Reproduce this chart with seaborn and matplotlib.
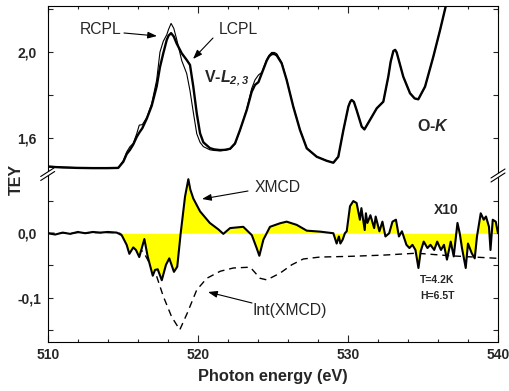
import matplotlib
matplotlib.use("Agg")
import matplotlib.pyplot as plt
from matplotlib.lines import Line2D
from matplotlib.patches import Polygon
from matplotlib.ticker import MultipleLocator, FuncFormatter
import pandas as pd
import seaborn as sns

# ---------------- data ----------------
energy_top = [510, 511, 512, 513, 514, 514.7, 515.04, 515.26, 515.48, 515.7,
              515.93, 516.1, 516.3, 516.6, 516.93, 517.26, 517.48, 517.7, 517.93, 518.05,
              518.22, 518.4, 518.59, 518.93, 519.26, 519.48, 519.7, 519.93, 520.15, 520.37,
              520.81, 521.1, 521.48, 521.8, 522.15, 522.48, 522.81, 523.26, 523.59, 523.81,
              524.04, 524.26, 524.59, 524.75, 524.92, 525.1, 525.26, 525.59, 525.92, 526.36,
              526.81, 527.26, 527.92, 528.59, 529.03, 529.36, 529.7, 530.03, 530.15, 530.25,
              530.4, 530.58, 530.92, 531.1, 531.47, 531.92, 532.36, 532.69, 532.85, 533.03,
              533.15, 533.25, 533.69, 534.14, 534.45, 534.69, 535.14, 535.69, 536.14, 536.54,
              536.9]

tey_lcpl = [1.467, 1.463, 1.461, 1.460, 1.460, 1.461, 1.490, 1.525, 1.545, 1.570,
            1.605, 1.625, 1.645, 1.690, 1.750, 1.840, 1.930, 1.994, 2.056, 2.076,
            2.088, 2.072, 2.040, 1.994, 1.963, 1.940, 1.839, 1.715, 1.622, 1.580,
            1.553, 1.547, 1.544, 1.545, 1.550, 1.575, 1.637, 1.730, 1.815, 1.847,
            1.860, 1.900, 1.960, 1.980, 1.990, 1.991, 1.984, 1.947, 1.870, 1.746,
            1.637, 1.552, 1.513, 1.494, 1.485, 1.513, 1.637, 1.746, 1.768, 1.777,
            1.768, 1.730, 1.653, 1.640, 1.684, 1.738, 1.769, 1.885, 1.955, 2.005,
            2.010, 1.998, 1.885, 1.808, 1.784, 1.780, 1.839, 1.978, 2.102, 2.219,
            2.330]

tey_rcpl = [1.469, 1.465, 1.462, 1.461, 1.461, 1.462, 1.495, 1.535, 1.560, 1.575,
            1.620, 1.660, 1.662, 1.695, 1.760, 1.870, 2.000, 2.050, 2.080, 2.105,
            2.133, 2.110, 2.060, 1.960, 1.900, 1.820, 1.720, 1.620, 1.580, 1.560,
            1.545, 1.542, 1.540, 1.543, 1.548, 1.572, 1.635, 1.735, 1.830, 1.870,
            1.893, 1.905, 1.965, 1.985, 1.998, 1.998, 1.992, 1.952, 1.872, 1.748,
            1.638, 1.553, 1.513, 1.494, 1.485, 1.513, 1.637, 1.746, 1.768, 1.777,
            1.768, 1.730, 1.653, 1.640, 1.684, 1.738, 1.769, 1.885, 1.955, 2.005,
            2.010, 1.998, 1.885, 1.808, 1.784, 1.780, 1.839, 1.978, 2.102, 2.219,
            2.330]

energy_xmcd = [510, 510.5, 511, 511.5, 512, 512.5, 513, 513.5, 514, 514.6,
               514.93, 515.26, 515.44, 515.7, 515.88, 516.1, 516.44, 516.66, 517.0, 517.15,
               517.33, 517.6, 517.88, 518.1, 518.41, 518.63, 518.86, 519.15, 519.37, 519.5,
               519.7, 520.15, 520.8, 521.37, 521.7, 522.15, 523.03, 523.6, 523.92, 524.1,
               524.37, 524.81, 525.48, 525.92, 526.59, 527.26, 528.14, 529.03, 529.25, 529.4,
               529.5, 529.65, 529.8, 529.92, 530.14, 530.36, 530.58, 530.8, 530.9, 531.12,
               531.2, 531.3, 531.5, 531.75, 531.85, 532.1, 532.3, 532.5, 532.75, 532.97,
               533.2, 533.4, 533.6, 533.9, 534.1, 534.3, 534.5, 534.7, 534.85, 535.05,
               535.3, 535.5, 535.75, 535.95, 536.2, 536.4, 536.6, 536.85, 537.05, 537.3,
               537.45, 537.6, 537.85, 538.0, 538.25, 538.45, 538.6, 538.85, 539.05, 539.2,
               539.4, 539.5, 539.65, 539.85, 540.0]

xmcd = [0.000, -0.002, 0.001, -0.001, 0.002, 0.000, 0.002, 0.001, 0.002, 0.001,
        -0.003, -0.018, -0.032, -0.022, -0.026, -0.037, -0.009, -0.036, -0.066, -0.057,
        -0.056, -0.073, -0.049, -0.039, -0.060, -0.052, 0.000, 0.057, 0.084, 0.068,
        0.054, 0.034, 0.016, 0.006, -0.001, 0.008, 0.010, -0.003, -0.023, -0.035,
        -0.010, 0.010, 0.0155, 0.018, 0.013, 0.004, 0.0025, 0.000, -0.016, -0.005,
        -0.016, -0.010, 0.000, 0.003, 0.042, 0.050, 0.047, 0.021, 0.039, 0.005,
        0.031, 0.016, 0.028, 0.008, 0.026, 0.003, 0.018, -0.005, 0.000, 0.018,
        0.021, -0.005, 0.003, -0.018, -0.023, -0.018, -0.026, -0.054, -0.028, -0.013,
        -0.023, -0.018, -0.026, -0.013, -0.026, -0.018, -0.041, -0.013, -0.036, 0.016,
        0.000, -0.023, -0.054, -0.016, -0.031, -0.039, -0.005, 0.031, 0.021, 0.026,
        0.010, -0.026, 0.021, 0.018, 0.000]

energy_int = [510, 514.8, 515.6, 516.4, 517.26, 517.7, 518.26, 518.8, 519.3, 519.93,
              520.6, 521.5, 522.37, 523.26, 523.5, 524.15, 524.6, 525.48, 526.26, 527.03,
              528.14, 530.0, 532.36, 534.58, 536.8, 540.0]
int_xmcd = [0.0, 0.0, -0.013, -0.030, -0.067, -0.098, -0.130, -0.150, -0.124, -0.088,
            -0.070, -0.059, -0.054, -0.053, -0.053, -0.070, -0.0725, -0.062, -0.049, -0.040,
            -0.037, -0.036, -0.034, -0.031, -0.035, -0.039]

x_ticks = [510, 520, 530, 540]
top_ticks = [1.6, 2.0]
bottom_ticks = [-0.1, 0.0]

# ---------------- style ----------------
sns.set_style("ticks")
plt.rcParams['font.family'] = ['Liberation Sans', 'DejaVu Sans']
plt.rcParams['mathtext.fontset'] = 'custom'
plt.rcParams['mathtext.rm'] = 'Liberation Sans'
plt.rcParams['mathtext.it'] = 'Liberation Sans:italic'
plt.rcParams['mathtext.bf'] = 'Liberation Sans:bold'
plt.rcParams['mathtext.bfit'] = 'Liberation Sans:italic:bold'

W, H = 510, 391
fig = plt.figure(figsize=(W / 100, H / 100), dpi=100)

def fx(x):
    return x / W

def fy(y):
    return 1 - y / H

L, R = 47.7, 498.0
T, MID, B = 6.0, 175.0, 342.0
ax_t = fig.add_axes([fx(L), fy(MID), (R - L) / W, (MID - T) / H])
ax_b = fig.add_axes([fx(L), fy(B), (R - L) / W, (B - MID) / H])
for ax in (ax_t, ax_b):
    ax.patch.set_alpha(0)

top_df = pd.DataFrame({"energy": energy_top, "RCPL": tey_rcpl, "LCPL": tey_lcpl})
bot_df = pd.DataFrame({"energy": energy_xmcd, "XMCD": xmcd})
int_df = pd.DataFrame({"energy": energy_int, "Int": int_xmcd})

sns.lineplot(data=top_df, x="energy", y="RCPL", ax=ax_t, color="black", lw=0.8)
sns.lineplot(data=top_df, x="energy", y="LCPL", ax=ax_t, color="black", lw=1.7)

sns.lineplot(data=int_df, x="energy", y="Int", ax=ax_b, color="black", lw=1.0,
             linestyle=(0, (5, 3.5)), zorder=1)
ax_b.fill_between(bot_df["energy"], bot_df["XMCD"], 0, color="#FFFF00", lw=0, zorder=2)
sns.lineplot(data=bot_df, x="energy", y="XMCD", ax=ax_b, color="black", lw=1.5, zorder=3)

fmt = FuncFormatter(lambda v, p: f"{v:.1f}".replace(".", ","))
for ax in (ax_t, ax_b):
    ax.set_xlim(510, 540)
    ax.set_xlabel("")
    ax.set_ylabel("")
    for s in ax.spines.values():
        s.set_linewidth(0.8)
        s.set_color("black")
    ax.set_xticks(x_ticks)
    ax.xaxis.set_minor_locator(MultipleLocator(2))
    ax.tick_params(axis="x", which="major", direction="in", length=4.8, width=0.8)
    ax.tick_params(axis="x", which="minor", direction="in", length=2.4, width=0.8)
    ax.tick_params(axis="y", which="both", direction="in", length=3.6, width=0.8,
                   left=True, right=True, labelsize=10, pad=22)
    ax.yaxis.set_major_formatter(fmt)

ax_t.set_ylim(1.428, 2.214)
ax_b.set_ylim(-0.169, 0.0905)
ax_t.set_yticks(top_ticks)
ax_t.yaxis.set_minor_locator(MultipleLocator(0.2))
ax_b.set_yticks(bottom_ticks)
ax_b.yaxis.set_minor_locator(MultipleLocator(0.05))

ax_t.spines["bottom"].set_visible(False)
ax_b.spines["top"].set_visible(False)
ax_t.tick_params(axis="x", which="both", top=True, bottom=False, labelbottom=False)
ax_b.tick_params(axis="x", which="both", top=False, bottom=True, labelsize=10, pad=4.5)

for ax in (ax_t, ax_b):
    for lab in ax.get_yticklabels():
        lab.set_horizontalalignment("left")
        lab.set_fontweight("bold")
    for lab in ax.get_xticklabels():
        lab.set_fontweight("bold")

# ---------------- axis labels ----------------
fig.text(fx(16), fy(179), "TEY", rotation=90, ha="center", va="center",
         fontsize=11.5, fontweight="bold")
fig.text(fx(273), fy(377), "Photon energy (eV)", ha="center", va="center",
         fontsize=11.8, fontweight="bold")

# ---------------- annotations ----------------
def P(x, y):
    return (x, H - y)

ann = dict(fontsize=11.3, va="center")
fig.text(fx(101), fy(29), "RCPL", ha="center", **ann)
fig.text(fx(238), fy(29), "LCPL", ha="center", **ann)
fig.text(fx(255), fy(187), "XMCD", ha="left", **ann)
fig.text(fx(253), fy(310), "Int(XMCD)", ha="left", **ann)
fig.text(fx(204), fy(82), r"V-$\mathbfit{L}_{\mathbfit{2,3}}$", ha="left", va="baseline",
         fontsize=11.5, fontweight="bold")
fig.text(fx(417), fy(131), r"O-$\mathbfit{K}$", ha="left", va="baseline",
         fontsize=11.5, fontweight="bold")
fig.text(fx(446), fy(210), "X10", ha="center", va="center", fontsize=10, fontweight="bold")
fig.text(fx(420), fy(280), "T=4.2K", ha="left", va="center", fontsize=7.5, fontweight="bold")
fig.text(fx(420), fy(296), "H=6.5T", ha="left", va="center", fontsize=7.5, fontweight="bold")

arrow = dict(arrowstyle="-|>,head_length=0.55,head_width=0.2", lw=0.8, color="black",
             shrinkA=0, shrinkB=0)
for (x0, y0), (x1, y1) in [((124, 33), (157, 36)), ((213, 38), (193, 59)),
                           ((248, 191), (202, 199)), ((252, 303), (208, 292))]:
    a = ax_b.annotate("", xy=P(x1, y1), xytext=P(x0, y0), xycoords="figure pixels",
                      textcoords="figure pixels", arrowprops=arrow, annotation_clip=False)
    a.set_zorder(20)

# ---------------- axis-break marks ----------------
for cx, cy in [(L, 174.0), (R, 175.5)]:
    dx, dy, g = 7.0, 4.5, 2.0
    poly = Polygon([(fx(cx - dx), fy(cy + dy - g)), (fx(cx + dx), fy(cy - dy - g)),
                    (fx(cx + dx), fy(cy - dy + g)), (fx(cx - dx), fy(cy + dy + g))],
                   closed=True, facecolor="white", edgecolor="none",
                   transform=fig.transFigure, zorder=10)
    fig.add_artist(poly)
    for s in (-g, g):
        fig.add_artist(Line2D([fx(cx - dx), fx(cx + dx)], [fy(cy + dy + s), fy(cy - dy + s)],
                              color="black", lw=0.8, transform=fig.transFigure, zorder=11))

fig.savefig("out.png", dpi=100)
